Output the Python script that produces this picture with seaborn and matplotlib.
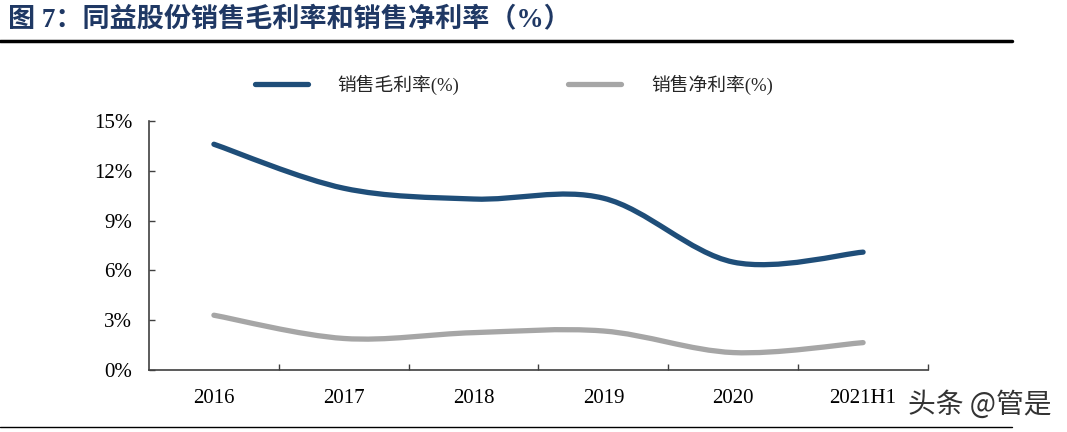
import numpy as np
import matplotlib
matplotlib.use("Agg")
import matplotlib.pyplot as plt
import seaborn as sns
from matplotlib.path import Path
from matplotlib.patches import PathPatch
from matplotlib.lines import Line2D

# data (%)
years = ['2016', '2017', '2018', '2019', '2020', '2021H1']
gross_margin = [13.6, 10.95, 10.3, 10.35, 6.5, 7.1]
net_margin = [3.3, 1.9, 2.25, 2.35, 1.05, 1.65]
y_ticks = [0, 3, 6, 9, 12, 15]

blue = '#1F4E79'
gray = '#A6A6A6'
serif_cjk = ['Liberation Serif', 'Noto Sans CJK SC']

sns.set_theme(style="ticks")
plt.rcParams['font.family'] = serif_cjk


def smooth_path(xs, ys):
    # Excel-style smoothed line: cubic bezier through every point
    n = len(xs)
    verts = [(xs[0], ys[0])]
    codes = [Path.MOVETO]
    for i in range(n - 1):
        a = max(i - 1, 0)
        b = min(i + 2, n - 1)
        c1 = (xs[i] + (xs[i + 1] - xs[a]) / 6, ys[i] + (ys[i + 1] - ys[a]) / 6)
        c2 = (xs[i + 1] - (xs[b] - xs[i]) / 6, ys[i + 1] - (ys[b] - ys[i]) / 6)
        verts += [c1, c2, (xs[i + 1], ys[i + 1])]
        codes += [Path.CURVE4] * 3
    return Path(verts, codes)


fig = plt.figure(figsize=(10.67, 4.32), dpi=100)
ax = fig.add_axes([149 / 1067, 1 - 370 / 432, (928 - 149) / 1067, (370 - 121) / 432])

x = np.arange(len(years))
for vals, col in [(gross_margin, blue), (net_margin, gray)]:
    patch = PathPatch(smooth_path(x, vals), facecolor='none', edgecolor=col,
                      lw=3.8, capstyle='round', joinstyle='round')
    ax.add_patch(patch)

ax.set_xlim(-0.5, len(years) - 0.5)
ax.set_ylim(0, 15)
ax.set_yticks(y_ticks)
ax.set_yticklabels([f'{v}%' for v in y_ticks])
ax.set_xticks(x)
ax.set_xticklabels(years)
ax.set_xticks(np.arange(len(years)) + 0.5, minor=True)
ax.tick_params(axis='x', which='major', length=0, pad=14, labelsize=15)
ax.tick_params(axis='x', which='minor', length=4, direction='in', width=1, color='#404040')
ax.tick_params(axis='y', length=4, direction='in', width=1, color='#404040', pad=12, labelsize=15)
for lab in ax.get_xticklabels() + ax.get_yticklabels():
    lab.set_family('Liberation Serif')
    lab.set_color('black')
sns.despine(ax=ax)
for s in ['left', 'bottom']:
    ax.spines[s].set_color('#404040')
    ax.spines[s].set_linewidth(1.2)
ax.set_facecolor('white')

handles = [Line2D([], [], color=blue, lw=3.8, solid_capstyle='round'),
           Line2D([], [], color=gray, lw=3.8, solid_capstyle='round')]
fig.legend(handles, ['销售毛利率(%)', '销售净利率(%)'], loc='center',
           bbox_to_anchor=(514 / 1067, 1 - 85 / 432), ncol=2, frameon=False,
           prop={'family': serif_cjk, 'size': 13.5}, handlelength=2.8,
           handletextpad=1.6, columnspacing=5.8)

# header
fig.text(8 / 1067, 1 - 19 / 432, '图 7：同益股份销售毛利率和销售净利率（%）',
         color='#1F3864', fontsize=19.5, fontweight='bold', family=serif_cjk,
         va='center', ha='left')
fig.add_artist(Line2D([0, 1012 / 1067], [1 - 41 / 432, 1 - 41 / 432],
                      color='black', lw=2.5, transform=fig.transFigure))
fig.add_artist(Line2D([0, 1012 / 1067], [1 - 427 / 432, 1 - 427 / 432],
                      color='black', lw=1, transform=fig.transFigure))
fig.text(908 / 1067, 1 - 405 / 432, '头条 @管是', color='#333333', fontsize=20,
         family=['Noto Sans CJK SC', 'DejaVu Sans'], va='center', ha='left')

fig.savefig('out.png', dpi=100, facecolor='white')
